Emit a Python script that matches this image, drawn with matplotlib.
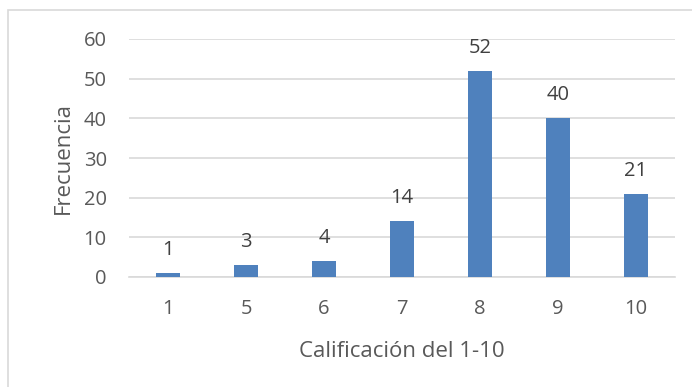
import matplotlib.pyplot as plt
from matplotlib.patches import Rectangle

# calificaciones y frecuencias
calificaciones = ['1', '5', '6', '7', '8', '9', '10']
frecuencias = [1, 3, 4, 14, 52, 40, 21]

plt.rcParams['font.family'] = ['Open Sans', 'DejaVu Sans']
gris = '#595959'
azul = '#4f81bd'

fig = plt.figure(figsize=(6.92, 3.87), dpi=100)
W, H = 692, 387
ax = fig.add_axes([129 / W, 1 - 277 / H, 546 / W, (277 - 39) / H])

x = range(len(calificaciones))
barras = ax.bar(x, frecuencias, width=0.31, color=azul, zorder=3)
for b, v in zip(barras, frecuencias):
    ax.annotate(str(v), (b.get_x() + b.get_width() / 2, v), xytext=(0, 9.5),
                textcoords='offset points', ha='center', va='bottom',
                fontsize=14.5, color='#404040')

ax.set_xlim(-0.5, len(calificaciones) - 0.5)
ax.set_ylim(0, 60)
ax.set_yticks(range(0, 61, 10))
ax.set_xticks(list(x))
ax.set_xticklabels(calificaciones)
ax.grid(axis='y', color='#d9d9d9', linewidth=1.2, zorder=0)
for s in ['top', 'right', 'left']:
    ax.spines[s].set_visible(False)
ax.spines['bottom'].set_color('#d9d9d9')
ax.spines['bottom'].set_linewidth(1.2)
ax.tick_params(axis='both', length=0, labelsize=14.5, colors=gris)
ax.tick_params(axis='y', pad=16)
ax.tick_params(axis='x', pad=16)

ax.set_xlabel('Calificación del 1-10', fontsize=16, color=gris, labelpad=16)
ax.set_ylabel('Frecuencia', fontsize=16, color=gris, labelpad=7)

# marco del gráfico
fig.patches.append(Rectangle((8 / W, -0.1), 1.2, 1 - 10 / H + 0.1, transform=fig.transFigure,
                             fill=False, edgecolor='#d9d9d9', linewidth=1.2))

fig.savefig('out.png', dpi=100)
